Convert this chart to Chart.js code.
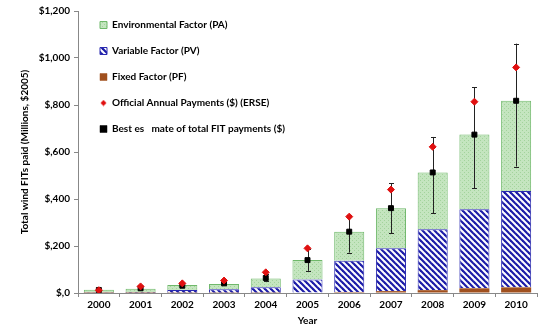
<!DOCTYPE html>
<html>
<head>
<meta charset="utf-8">
<script src="https://cdn.jsdelivr.net/npm/chart.js@4.4.1/dist/chart.umd.min.js"></script>
<style>
html,body{margin:0;padding:0;background:#fff;}
#wrap{width:553px;height:327px;position:relative;}
</style>
</head>
<body>
<div id="wrap"><canvas id="c" width="553" height="327"></canvas></div>
<script>
const years = ['2000','2001','2002','2003','2004','2005','2006','2007','2008','2009','2010'];
const fixedFactor = [0.5, 0.5, 1, 1, 1, 2, 4, 8, 12, 20, 24];
const variableFactor = [2, 3, 12, 15, 23, 55, 133, 182, 259, 336, 410];
const environmentalFactor = [11, 15, 21, 22, 38, 83, 124, 171, 242, 318, 384];
const officialPayments = [12, 28, 41, 53, 88, 190, 325, 440, 622, 814, 960];
const bestEstimate = [13, 20, 31, 41, 64, 140, 261, 361, 513, 674, 818];
const errLow = [null, null, null, null, 52, 94, 172, 254, 339, 446, 538];
const errHigh = [null, null, null, null, 80, 188, 330, 467, 664, 875, 1061];
const yTicks = [0, 200, 400, 600, 800, 1000, 1200];
const yTickLabels = ['$,0', '$,200', '$,400', '$,600', '$,800', '$1,000', '$1,200'];

function makeCanvas(w, h, draw) {
  const cv = document.createElement('canvas');
  cv.width = w; cv.height = h;
  draw(cv.getContext('2d'), w, h);
  return cv;
}
function makePattern(w, h, draw) {
  return document.createElement('canvas').getContext('2d').createPattern(makeCanvas(w, h, draw), 'repeat');
}
const ctx0 = document.getElementById('c').getContext('2d');
const greenPat = makePattern(4, 4, (g, w, h) => {
  g.fillStyle = '#c4e5bf'; g.fillRect(0, 0, w, h);
  g.fillStyle = '#a3d39c'; g.fillRect(0, 0, 1, 1); g.fillRect(2, 2, 1, 1);
});
const stripePat = makePattern(6, 6, (g, w, h) => {
  g.fillStyle = '#ffffff'; g.fillRect(0, 0, w, h);
  g.strokeStyle = '#1c1ca8'; g.lineWidth = 2.2;
  for (let k = -2; k <= 2; k++) {
    g.beginPath(); g.moveTo(k * 6 - 1, -1); g.lineTo(k * 6 + 7, 7); g.stroke();
  }
});
const redDiamond = makeCanvas(7, 7, (g) => {
  g.fillStyle = '#e01010';
  g.beginPath(); g.moveTo(3.5, 0.5); g.lineTo(6.5, 3.5); g.lineTo(3.5, 6.5); g.lineTo(0.5, 3.5); g.closePath(); g.fill();
});

const FONT = 'Lato';
const legendRank = [2, 1, 0, 3, 4];

const errorBars = {
  id: 'errorBars',
  beforeDatasetDraw(chart, args) {
    if (args.index !== 4) return;
    const ctx = chart.ctx, xs = chart.scales.x, ys = chart.scales.y;
    ctx.save();
    ctx.strokeStyle = '#222'; ctx.lineWidth = 1;
    for (let i = 0; i < years.length; i++) {
      if (errLow[i] == null) continue;
      const x = Math.round(xs.getPixelForValue(i)) + 0.5;
      const y1 = ys.getPixelForValue(errLow[i]);
      const y2 = ys.getPixelForValue(errHigh[i]);
      ctx.beginPath();
      ctx.moveTo(x, y1); ctx.lineTo(x, y2);
      ctx.moveTo(x - 2.5, Math.round(y1) + 0.5); ctx.lineTo(x + 2.5, Math.round(y1) + 0.5);
      ctx.moveTo(x - 2.5, Math.round(y2) + 0.5); ctx.lineTo(x + 2.5, Math.round(y2) + 0.5);
      ctx.stroke();
    }
    ctx.restore();
  }
};

const legendShift = {
  id: 'legendShift',
  afterLayout(chart) {
    if (chart.legend) { chart.legend.left += 6; chart.legend.top += 4; }
  }
};

new Chart(ctx0, {
  data: {
    labels: years,
    datasets: [
      { type: 'bar', label: 'Fixed Factor (PF)', data: fixedFactor, backgroundColor: '#a0501e', borderColor: '#a0501e', borderWidth: 0, order: 1, stack: 's' },
      { type: 'bar', label: 'Variable Factor (PV)', data: variableFactor, backgroundColor: stripePat, borderColor: '#2a2ab0', borderWidth: 1, order: 1, stack: 's' },
      { type: 'bar', label: 'Environmental Factor (PA)', data: environmentalFactor, backgroundColor: greenPat, borderColor: '#6fb86a', borderWidth: 1, order: 1, stack: 's' },
      { type: 'line', label: 'Official Annual Payments ($) (ERSE)', data: officialPayments, stack: 'red', showLine: false, pointStyle: 'rectRot', pointRadius: 3.5, pointBackgroundColor: '#e01010', pointBorderColor: '#e01010', backgroundColor: '#e01010', borderColor: '#e01010', order: 0 },
      { type: 'line', label: 'Best es   mate of total FIT payments ($)', data: bestEstimate, stack: 'black', showLine: false, pointStyle: 'rect', pointRadius: 3.5, pointBackgroundColor: '#000', pointBorderColor: '#000', backgroundColor: '#000', borderColor: '#000', order: 0 }
    ]
  },
  options: {
    responsive: false,
    animation: false,
    layout: { padding: { left: 0, right: 16, top: 11, bottom: 0 } },
    plugins: {
      tooltip: { enabled: false },
      legend: {
        position: 'chartArea',
        align: 'start',
        labels: {
          font: { family: FONT, size: 10, weight: 'bold' },
          color: '#000',
          boxWidth: 7, boxHeight: 7,
          padding: 16,
          usePointStyle: true,
          sort: (a, b) => legendRank[a.datasetIndex] - legendRank[b.datasetIndex],
          generateLabels(chart) {
            const items = Chart.defaults.plugins.legend.labels.generateLabels(chart);
            items.forEach(it => {
              it.lineWidth = 0.5;
              it.pointStyle = 'rect';
              if (it.datasetIndex === 2) { it.fillStyle = greenPat; it.strokeStyle = '#6fb86a'; it.lineWidth = 1; }
              if (it.datasetIndex === 1) { it.fillStyle = stripePat; it.strokeStyle = '#2a2ab0'; it.lineWidth = 1; }
              if (it.datasetIndex === 0) { it.fillStyle = '#a0501e'; it.strokeStyle = '#a0501e'; }
              if (it.datasetIndex === 3) { it.pointStyle = redDiamond; }
              if (it.datasetIndex === 4) { it.fillStyle = '#000'; it.strokeStyle = '#000'; }
            });
            return items;
          }
        }
      }
    },
    scales: {
      x: {
        stacked: true,
        offset: true,
        grid: { display: true, drawOnChartArea: false, offset: true, color: '#888', tickLength: 4 },
        border: { color: '#888', width: 1 },
        ticks: { font: { family: FONT, size: 10, weight: 'bold' }, color: '#000', padding: 2 },
        title: { display: true, text: 'Year', font: { family: FONT, size: 10, weight: 'bold' }, color: '#000', padding: { top: 1, bottom: 0 } },
        categoryPercentage: 1,
        barPercentage: 0.42,
        afterFit(s) { s.height = 34; }
      },
      y: {
        stacked: true,
        min: 0, max: 1200,
        afterBuildTicks(s) { s.ticks = yTicks.map(v => ({ value: v })); },
        grid: { display: true, drawOnChartArea: false, color: '#888', tickLength: 4 },
        border: { color: '#888', width: 1 },
        ticks: {
          font: { family: FONT, size: 10, weight: 'bold' }, color: '#000', padding: 4,
          callback: (v) => yTickLabels[yTicks.indexOf(v)]
        },
        title: { display: true, text: 'Total wind FITs paid (Millions, $2005)', font: { family: FONT, size: 10, weight: 'bold' }, color: '#000', padding: { top: 19, bottom: 6 } },
        afterFit(s) { s.width = 78; }
      }
    }
  },
  plugins: [errorBars, legendShift]
});
</script>
</body>
</html>
